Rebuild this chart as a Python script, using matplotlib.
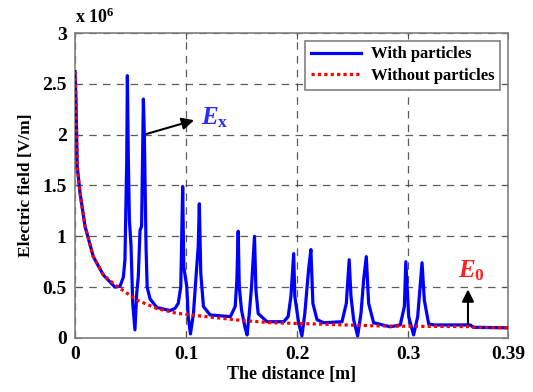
import numpy as np
import matplotlib
matplotlib.use("Agg")
import matplotlib.pyplot as plt

# ---- data (field in units of 1e6 V/m) ----
x_with = [0, 0.0009, 0.0015, 0.002, 0.0045, 0.009, 0.0165, 0.0255, 0.036, 0.0406,
          0.0436, 0.045, 0.0466, 0.0472, 0.048, 0.049, 0.0505, 0.052, 0.054, 0.0556,
          0.057, 0.0586, 0.060, 0.0616, 0.0625, 0.064, 0.065, 0.0676, 0.0737, 0.0857,
          0.09, 0.093, 0.0953, 0.097, 0.098, 0.1007, 0.102, 0.104, 0.1067, 0.109,
          0.111, 0.112, 0.1133, 0.1157, 0.1217, 0.14, 0.1443, 0.1458, 0.147, 0.148,
          0.150, 0.153, 0.155, 0.157, 0.159, 0.1617, 0.163, 0.165, 0.173, 0.188,
          0.192, 0.1945, 0.197, 0.198, 0.2015, 0.2044, 0.207, 0.2104, 0.2125, 0.2143,
          0.218, 0.224, 0.2405, 0.2444, 0.247, 0.2486, 0.251, 0.2546, 0.2576, 0.26,
          0.2624, 0.2645, 0.269, 0.284, 0.293, 0.2967, 0.298, 0.3006, 0.305, 0.3087,
          0.3126, 0.3147, 0.3186, 0.3236, 0.356, 0.359, 0.39]
e_with = [2.62, 2.34, 1.98, 1.69, 1.43, 1.10, 0.80, 0.62, 0.50, 0.51,
          0.60, 0.77, 1.75, 2.58, 1.79, 1.16, 0.90, 0.34, 0.08, 0.44,
          0.60, 1.06, 1.10, 2.35, 1.98, 0.90, 0.50, 0.385, 0.30, 0.27,
          0.29, 0.34, 0.505, 1.49, 0.70, 0.505, 0.21, 0.04, 0.24, 0.60,
          0.90, 1.32, 0.64, 0.31, 0.227, 0.21, 0.31, 0.57, 1.05, 0.50,
          0.276, 0.11, 0.03, 0.24, 0.50, 1.0, 0.47, 0.24, 0.16, 0.16,
          0.21, 0.41, 0.83, 0.41, 0.145, 0.02, 0.24, 0.67, 0.87, 0.34,
          0.18, 0.15, 0.16, 0.34, 0.77, 0.41, 0.18, 0.02, 0.24, 0.57,
          0.80, 0.34, 0.15, 0.11, 0.128, 0.31, 0.75, 0.21, 0.03, 0.21,
          0.74, 0.37, 0.138, 0.128, 0.128, 0.105, 0.10]

x_without = [0, 0.0009, 0.0015, 0.002, 0.0045, 0.009, 0.0165, 0.0255, 0.0376, 0.0556,
             0.0737, 0.0917, 0.104, 0.146, 0.176, 0.185, 0.215, 0.245, 0.27, 0.299,
             0.355, 0.36, 0.39]
e_without = [2.62, 2.34, 1.98, 1.69, 1.43, 1.10, 0.80, 0.62, 0.51, 0.374,
             0.29, 0.243, 0.227, 0.177, 0.15, 0.148, 0.138, 0.128, 0.12, 0.115,
             0.112, 0.105, 0.10]

xticks = [0, 0.1, 0.2, 0.3, 0.39]
xtick_labels = ["0", "0.1", "0.2", "0.3", "0.39"]
yticks = [0, 0.5, 1, 1.5, 2, 2.5, 3]
ytick_labels = ["0", "0.5", "1", "1.5", "2", "2.5", "3"]

plt.rcParams['font.family'] = ['Liberation Serif', 'DejaVu Serif']
plt.rcParams['font.weight'] = 'bold'
plt.rcParams['mathtext.fontset'] = 'custom'
plt.rcParams['mathtext.rm'] = 'Liberation Serif:bold'
plt.rcParams['mathtext.it'] = 'Liberation Serif:italic:bold'
plt.rcParams['mathtext.bf'] = 'Liberation Serif:bold'

fig = plt.figure(figsize=(5.33, 3.92), dpi=100)
ax = fig.add_axes([0.1407, 0.1378, 0.8123, 0.778])

ax.plot(x_with, e_with, color='#0000ff', lw=2.3, label='With particles', zorder=3)
ax.plot(x_without, e_without, color='#ff0000', lw=2.3, ls=(0, (1, 1)),
        label='Without particles', zorder=4)

ax.set_xlim(0, 0.39)
ax.set_ylim(0, 3)
ax.set_xticks(xticks)
ax.set_xticklabels(xtick_labels)
ax.set_yticks(yticks)
ax.set_yticklabels(ytick_labels)
ax.tick_params(direction='in', length=4, top=True, right=True, labelsize=14,
               color='#555555', pad=6)
for lab in ax.get_xticklabels() + ax.get_yticklabels():
    lab.set_fontweight('bold')
for s in ax.spines.values():
    s.set_color('#808080')
    s.set_linewidth(1.2)

ax.grid(True, color='#333333', ls=(0, (6, 5)), lw=0.9, alpha=0.8)

ax.set_xlabel('The distance [m]', fontsize=13, fontweight='bold', labelpad=2)
ax.set_ylabel('Electric field [V/m]', fontsize=12.5, fontweight='bold', labelpad=6)

ax.text(0.0, 1.02, r'x 10$^{\mathrm{6}}$', transform=ax.transAxes, fontsize=13,
        fontweight='bold', ha='left', va='bottom')

# annotations
ax.annotate('', xy=(0.1097, 2.15), xytext=(0.0622, 2.0),
            arrowprops=dict(arrowstyle='-|>', color='black', lw=1.5, mutation_scale=18))
ax.text(0.1135, 2.17, r'$E_{\mathrm{x}}$', fontsize=18, color='#2a2aff',
        ha='left', va='center')
ax.annotate('', xy=(0.354, 0.505), xytext=(0.354, 0.11),
            arrowprops=dict(arrowstyle='-|>', color='black', lw=1.5, mutation_scale=18))
ax.text(0.357, 0.66, r'$E_{\mathrm{0}}$', fontsize=18, color='#ff2020',
        ha='center', va='center')

leg = ax.legend(loc='upper right', fontsize=12, fancybox=False, edgecolor='#808080',
                framealpha=1, borderaxespad=0.45, handlelength=3.0, borderpad=0.35,
                labelspacing=0.35, handletextpad=0.6)
leg.get_frame().set_linewidth(1.2)
for t in leg.get_texts():
    t.set_fontweight('bold')

fig.savefig('out.png', dpi=100)
